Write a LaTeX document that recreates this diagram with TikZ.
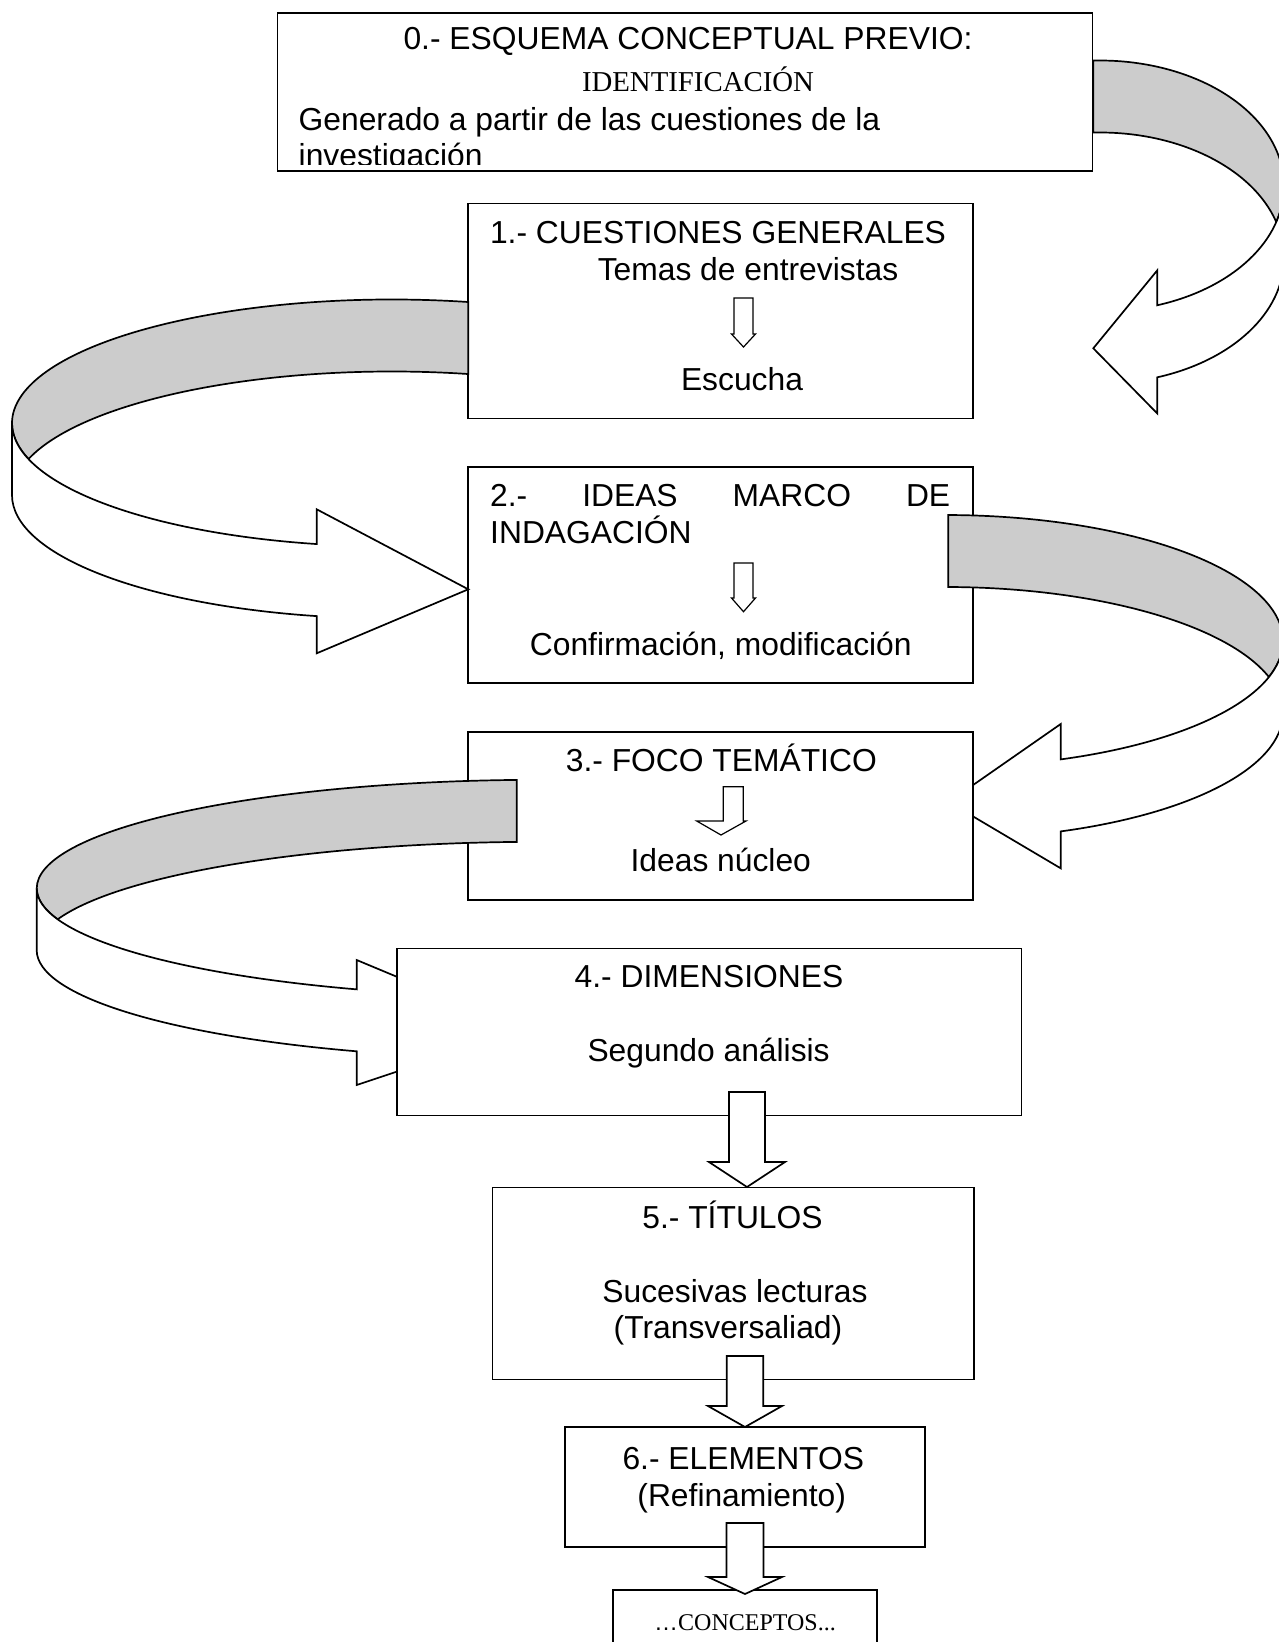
\documentclass[tikz,border=0pt]{standalone}
\usepackage{fontspec}
\setmainfont{Liberation Sans}
\newfontfamily\serifface{Liberation Serif}
\usetikzlibrary{calc}

\definecolor{bandgrey}{HTML}{CCCCCC}

% downward block arrow: centre x, top, head start, tip, half shaft, half head
\newcommand{\blockdown}[7][]{%
  \draw[#1] (#2-#6,#3) -- (#2+#6,#3) -- (#2+#6,#4) -- (#2+#7,#4)
    -- (#2,#5) -- (#2-#7,#4) -- (#2-#6,#4) -- cycle;}

\begin{document}
\begin{tikzpicture}[
    x=1pt, y=-1pt,
    box/.style={draw, fill=white, line width=1.8pt, inner sep=0pt, outer sep=0pt},
    txt/.style={inner sep=0pt, anchor=base, font=\fontsize{31.8}{36}\selectfont},
    band/.style={draw, fill=bandgrey, line width=1.7pt},
    ribbon/.style={draw, fill=white, line width=1.7pt},
    fatarrow/.style={draw, fill=white, line width=1.7pt},
    thinarrow/.style={draw, fill=white, line width=1.2pt}
]
\useasboundingbox (0,0) rectangle (1279,1642);
\clip (0,0) rectangle (1279,1642);

% 0
\node[box, minimum width=815pt, minimum height=158pt] (b0) at (685,91.6) {};
\node[txt] (t0a) at (688,49) {0.- ESQUEMA CONCEPTUAL PREVIO:};
\node[txt, font=\serifface\fontsize{28.8}{33}\selectfont] (t0b) at (698,91.5) {IDENTIFICACIÓN};
\node[txt, anchor=base west] (t0c) at (298.5,130) {Generado a partir de las cuestiones de la};
\begin{scope}
  \clip (279,14) rectangle (1091,164);
  \node[txt, anchor=base west] (t0d) at (298.5,166.5) {investigación};
\end{scope}

% 1
\node[box, minimum width=505pt, minimum height=215pt] (b1) at (720.8,310.9) {};
\node[txt] (t1a) at (718,243.3) {1.- CUESTIONES GENERALES};
\node[txt] (t1b) at (748,280) {Temas de entrevistas};
\node[txt] (t1c) at (742,390) {Escucha};
\blockdown[thinarrow]{743.5}{298}{334}{347}{9.5}{12}

% 2
\node[box, minimum width=505pt, minimum height=215.5pt] (b2) at (720.8,575) {};
\node[txt, anchor=base west] (t2a) at (490,506.7)
  {\makebox[460pt][s]{2.-\hfill IDEAS\hfill MARCO\hfill DE}};
\node[txt, anchor=base west] (t2b) at (490,543.3) {INDAGACIÓN};
\node[txt] (t2c) at (720.8,655) {Confirmación, modificación};
\blockdown[thinarrow]{743.5}{563}{598}{611.7}{9.5}{12}

% 0 -> 1
\path[band] ($(1100,186)+(-92.09:184 and 125.5)$)
  arc[start angle=-92.09, end angle=16.67, x radius=184, y radius=125.5]
  arc[start angle=-16.67, end angle=-92.09, x radius=184, y radius=125.5]
  -- cycle;
\path[ribbon] ($(1100,186)+(0:184 and 125.5)$)
  arc[start angle=0, end angle=71.86, x radius=184, y radius=125.5]
  -- (1157.3,270.3) -- (1093.3,348.3) -- (1157.3,413.5) -- (1157.3,377.3)
  arc[start angle=71.86, end angle=0, x radius=184, y radius=125.5]
  -- cycle;

% 1 -> 2
\path[band] ($(392,423)+(-78.42:380 and 123.5)$)
  arc[start angle=-78.42, end angle=-196.95, x radius=380, y radius=123.5]
  arc[start angle=-163.05, end angle=-78.42, x radius=380, y radius=123.5]
  -- cycle;
\path[ribbon] ($(392,423)+(180:380 and 123.5)$)
  arc[start angle=180, end angle=101.43, x radius=380, y radius=123.5]
  -- (316.7,509.3) -- (468.3,589.3) -- (316.7,653.3) -- (316.7,616.1)
  arc[start angle=101.43, end angle=180, x radius=380, y radius=123.5]
  -- cycle;

% 2 -> 3
\path[band] ($(945,641)+(-89.44:338 and 126)$)
  arc[start angle=-89.44, end angle=16.6, x radius=338, y radius=126]
  arc[start angle=-16.6, end angle=-89.44, x radius=338, y radius=126]
  -- cycle;
\path[ribbon] ($(945,641)+(0:338 and 126)$)
  arc[start angle=0, end angle=69.98, x radius=338, y radius=126]
  -- (1060.7,724) -- (948.7,802) -- (1060.7,868.3) -- (1060.7,831.4)
  arc[start angle=69.98, end angle=0, x radius=338, y radius=126]
  -- cycle;

% 3
\node[box, minimum width=505pt, minimum height=168.3pt] (b3) at (720.8,815.9) {};
\node[txt] (t3a) at (721.3,771.7) {3.- FOCO TEMÁTICO};
\node[txt] (t3b) at (720.8,871.7) {Ideas núcleo};
\draw[thinarrow] (723.3,786.7) -- (743.3,786.7) -- (743.3,821) -- (746,821)
  -- (721,835) -- (696.7,821) -- (723.3,821) -- cycle;

% 3 -> 4
\path[band] ($(540,888.3)+(-92.65:503.3 and 108.5)$)
  arc[start angle=-92.65, end angle=-196.6, x radius=503.3, y radius=108.5]
  arc[start angle=-163.4, end angle=-92.65, x radius=503.3, y radius=108.5]
  -- cycle;
\path[ribbon] ($(540,888.3)+(180:503.3 and 108.5)$)
  arc[start angle=180, end angle=111.36, x radius=503.3, y radius=108.5]
  -- (356.7,960) -- (523.3,1029.5) -- (356.7,1085) -- (356.7,1051.3)
  arc[start angle=111.36, end angle=180, x radius=503.3, y radius=108.5]
  -- cycle;

% 4 .. 7
\node[box, minimum width=624.5pt, minimum height=167pt] (b4) at (709.2,1032) {};
\node[txt] (t4a) at (709,987) {4.- DIMENSIONES};
\node[txt] (t4b) at (708.6,1061) {Segundo análisis};

\node[box, minimum width=481.5pt, minimum height=192pt] (b5) at (733.2,1283.5) {};
\node[txt] (t5a) at (732.5,1228.5) {5.- TÍTULOS};
\node[txt] (t5b) at (735,1302.5) {Sucesivas lecturas};
\node[txt] (t5c) at (728,1338.5) {(Transversaliad)};

\node[box, minimum width=360pt, minimum height=119.5pt] (b6) at (745,1487) {};
\node[txt] (t6a) at (743.3,1469) {6.- ELEMENTOS};
\node[txt] (t6b) at (741.7,1506.7) {(Refinamiento)};

\node[box, minimum width=263.4pt, minimum height=75pt] (b7) at (745,1627.5) {};
\node[txt, font=\serifface\fontsize{24}{28}\selectfont] (t7) at (745,1630.5)
  {{\rmfamily\fontspec{Liberation Sans}…}CONCEPTOS...};

\blockdown[fatarrow]{747}{1092}{1162}{1187}{18}{38}
\blockdown[fatarrow]{745}{1356}{1406}{1427}{18.3}{37}
\blockdown[fatarrow]{745}{1523}{1577}{1594}{18.5}{37}
\end{tikzpicture}
\end{document}
